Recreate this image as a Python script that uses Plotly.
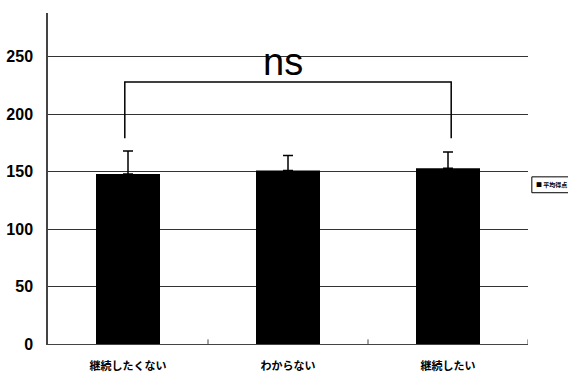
import plotly.graph_objects as go

categories = ["継続したくない", "わからない", "継続したい"]
mean_scores = [148, 151, 153]
error_plus = [20, 13, 14]
series_name = "平均得点"
y_ticks = [0, 50, 100, 150, 200, 250]

# significance bracket between the first and last group
bracket_low = 179
bracket_high = 228
ns_label_y = 245

fig = go.Figure()
fig.add_trace(go.Bar(
    x=[0, 1, 2],
    y=mean_scores,
    name=series_name,
    marker=dict(color="black", line=dict(width=0)),
    width=0.4,
    error_y=dict(type="data", symmetric=False, array=error_plus,
                 arrayminus=[0, 0, 0], color="black", thickness=1.5, width=5),
    showlegend=False,
))

fig.add_trace(go.Scatter(
    x=[-0.02, -0.02, 2.02, 2.02],
    y=[bracket_low, bracket_high, bracket_high, bracket_low],
    mode="lines",
    line=dict(color="black", width=1.5),
    showlegend=False,
    hoverinfo="skip",
))

fig.add_annotation(x=0.97, y=ns_label_y, text="ns", showarrow=False,
                   font=dict(family="Liberation Sans, Arial", size=38, color="black"),
                   xref="x", yref="y")

# legend box drawn at the right edge of the page
fig.add_shape(type="rect", xref="paper", yref="paper",
              x0=1.008, x1=1.2, y0=0.457, y1=0.505,
              line=dict(color="black", width=1), fillcolor="white")
fig.add_annotation(xref="paper", yref="paper", x=1.012, y=0.481,
                   xanchor="left", yanchor="middle", showarrow=False,
                   text="■ " + series_name,
                   font=dict(family="Noto Sans CJK JP", size=6, color="black", weight="bold"))

fig.update_layout(
    width=568, height=374,
    margin=dict(l=48, r=40, t=13, b=30),
    paper_bgcolor="white", plot_bgcolor="white",
    showlegend=False,
    xaxis=dict(
        range=[-0.5, 2.5], automargin=False,
        tickmode="array", tickvals=[0, 1, 2], ticktext=categories,
        showgrid=False, zeroline=False,
        showline=True, linecolor="#444", linewidth=1,
        ticks="", ticklabelstandoff=12,
        tickfont=dict(family="Noto Sans CJK JP", size=11, color="black", weight="bold"),
    ),
    yaxis=dict(
        range=[0, 288], automargin=False,
        tickmode="array", tickvals=y_ticks,
        showgrid=True, gridcolor="#333", gridwidth=1,
        zeroline=False,
        showline=True, linecolor="#444", linewidth=1.5,
        ticks="", ticklabelstandoff=10,
        tickfont=dict(family="Liberation Sans Narrow, Liberation Sans, Arial", size=16,
                      color="black", weight="bold"),
    ),
)

# small separator ticks on the category axis
for xb in [0.5, 1.5, 2.5]:
    fig.add_shape(type="line", xref="x", yref="y", x0=xb, x1=xb, y0=0, y1=4,
                  line=dict(color="#444", width=1))

fig.write_html("out.html")
